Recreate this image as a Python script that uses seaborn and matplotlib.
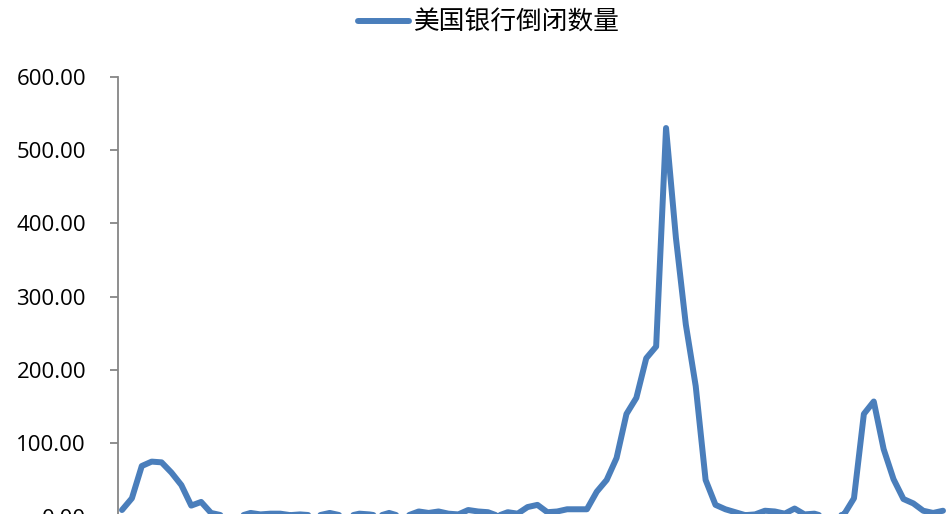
import matplotlib
matplotlib.use("Agg")
import matplotlib.pyplot as plt
import seaborn as sns
import pandas as pd
import numpy as np

years = list(range(1934, 2018))
failures = [
    9, 25, 69, 75, 74, 60, 43, 15, 20, 5,
    2, 0, 1, 5, 3, 4, 4, 2, 3, 2,
    2, 5, 2, 1, 4, 3, 1, 5, 1, 2,
    7, 5, 7, 4, 3, 9, 7, 6, 1, 6,
    4, 13, 16, 6, 7, 10, 10, 10, 34, 50,
    80, 140, 162, 216, 232, 530, 380, 262, 178, 50,
    16, 10, 6, 2, 3, 8, 7, 4, 11, 3,
    4, 0, 0, 3, 25, 140, 157, 92, 51, 24,
    18, 8, 5, 8,
]
series_name = "美国银行倒闭数量"
y_ticks = [0, 100, 200, 300, 400, 500, 600]

df = pd.DataFrame({"year": years, "value": failures})

sns.set_theme(style="white")
plt.rcParams['font.family'] = ['Open Sans', 'DejaVu Sans']

W, H = 952, 514
fig = plt.figure(figsize=(W / 100, H / 100), dpi=100)
# axes: left spine at x=118px, y=600 at 76.7px from top, y=0 at 516.6px from top
left = 118 / W
right = 1.0
y_top = 76.7
y_zero = 516.6
ax = fig.add_axes([left, (H - y_zero) / H, right - left, (y_zero - y_top) / H])

color = "#4A7EBB"
sns.lineplot(data=df, x="year", y="value", ax=ax, color=color, linewidth=4.3,
             label=series_name, legend=False)

ax.set_ylim(0, 600)
spacing = (943 - 122) / 83
ax.set_xlim(1934 - (122 - 118) / spacing, 2017 + (W - 943) / spacing)
ax.set_yticks(y_ticks)
ax.set_yticklabels([f"{v:.2f}" for v in y_ticks], fontsize=16, color="#000000")
ax.set_xticks([])
ax.set_xlabel("")
ax.set_ylabel("")

for s in ["top", "right", "bottom"]:
    ax.spines[s].set_visible(False)
ax.spines["left"].set_color("#868686")
ax.spines["left"].set_linewidth(1.3)
ax.tick_params(axis="y", direction="out", length=6, width=1.3, color="#868686",
               pad=17, left=True)

handles, labels = ax.get_legend_handles_labels()
leg = fig.legend(handles, labels, loc="center", bbox_to_anchor=(489 / W, 1 - 23 / H),
                 frameon=False, handlelength=2.0, handletextpad=0.2,
                 prop={"family": ["Noto Sans CJK SC", "DejaVu Sans"], "size": 18.5})
for t in leg.get_texts():
    t.set_color("#000000")

fig.savefig("out.png", dpi=100)
